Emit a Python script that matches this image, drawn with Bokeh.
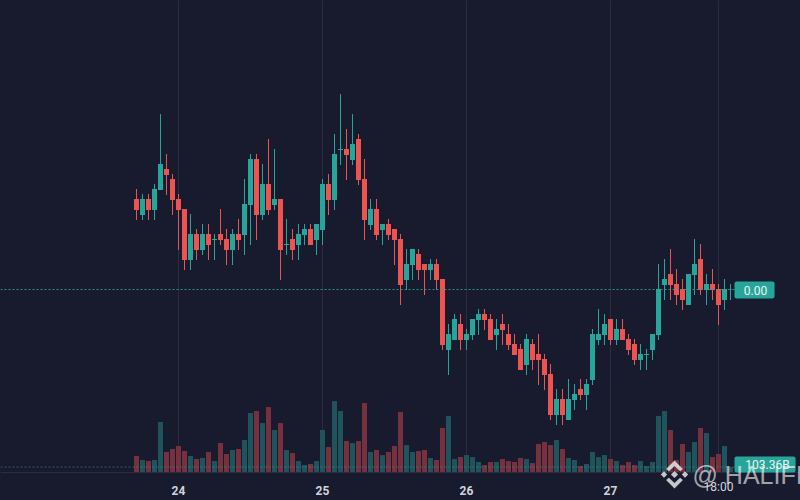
from bokeh.embed import file_html
from bokeh.resources import INLINE
from bokeh.plotting import figure
from bokeh.models import (Range1d, LinearAxis, FixedTicker, BoxAnnotation, Label,
                          PolyAnnotation, ColumnDataSource)

opens = [301,285,301,290,310,331,321,301,291,240,266,250,266,260,266,261,250,266,265,295,
         341,285,316,295,301,255,261,255,265,271,260,270,316,300,350,351,340,361,321,275,
         291,270,276,271,261,220,235,246,236,230,236,221,150,160,176,160,165,180,186,181,
         165,176,166,156,151,135,156,146,141,126,85,101,80,100,111,105,120,160,165,181,
         160,171,161,156,140,145,150,165,215,226,216,211,195,225,241,210,216,211,200,210]
closes = [290,301,290,311,336,325,300,290,240,266,250,266,255,261,260,250,266,260,296,341,
          285,316,290,301,250,256,250,266,271,255,276,316,300,346,351,345,356,320,280,291,
          265,276,265,260,215,236,251,230,230,236,220,155,166,181,160,166,181,186,180,160,
          171,170,155,145,130,161,140,140,125,85,101,85,101,106,105,116,166,166,176,160,
          171,160,150,140,146,146,166,211,221,215,205,200,226,236,210,216,210,195,211,210.5]
highs = [311,306,306,316,386,346,326,306,291,286,271,276,276,266,291,271,271,281,321,346,
         346,336,361,351,301,281,271,276,276,276,276,321,326,366,406,371,386,366,341,301,
         301,276,281,271,266,251,251,251,236,241,241,221,176,186,186,171,181,191,191,186,
         181,186,176,166,156,166,161,166,146,136,111,111,121,116,121,121,171,191,186,181,
         181,181,166,161,156,151,166,236,241,251,231,221,226,261,256,226,231,216,221,216]
lows = [280,280,280,280,310,305,285,250,230,230,240,245,240,240,255,235,235,250,245,255,
        260,280,285,290,220,245,240,240,255,255,245,255,285,290,335,320,335,315,260,270,
        260,255,260,235,195,210,220,220,205,220,210,150,125,160,150,150,160,165,170,160,
        150,155,150,145,130,125,130,115,110,80,75,75,80,90,100,90,115,155,155,155,
        155,160,145,135,130,130,140,160,200,200,195,190,195,205,205,195,200,175,190,200]
volumes_b = [318,240,220,240,981,396,454,513,415,318,259,279,396,220,571,357,435,454,630,1156,
             1195,961,1273,825,961,435,376,220,142,162,220,825,493,1390,1195,610,571,610,1351,396,
             435,337,396,513,1176,532,396,415,435,279,240,864,1098,259,298,337,298,201,142,201,
             201,259,220,201,279,259,181,552,591,532,630,454,279,240,123,162,396,298,337,259,
             220,142,201,142,220,123,201,1098,1195,825,240,552,396,591,864,766,298,357,513,103.36]

tick_positions = [7, 31, 55, 79]
tick_labels = ["24", "25", "26", "27"]
time_tick = 97
time_label = "18:00"
last_price_label = "0.00"
last_volume_label = "103.36B"
watermark = "@ HALIFI"

BG = "#181a2e"
UP = "#26a69a"
DOWN = "#ef5350"
GRID = "#2b2d3e"

n = len(opens)
idx = list(range(n))
up = [c >= o for o, c in zip(opens, closes)]
colors = [UP if u else DOWN for u in up]
vol_colors = ["#1f545d" if u else "#77303e" for u in up]
src = ColumnDataSource(dict(
    x=idx, o=opens, c=closes, h=highs, l=lows, v=volumes_b,
    top=[max(a, b) for a, b in zip(opens, closes)],
    bot=[min(a, b) for a, b in zip(opens, closes)],
    color=colors, vcolor=vol_colors))


def X(px):
    return (px - 136.0) / 6.0


def Y(py):
    return 499.5 - py


p = figure(width=800, height=500, output_backend="svg", toolbar_location=None,
           x_range=Range1d(X(0), X(800)), y_range=Range1d(-0.5, 499.5),
           x_axis_location=None, y_axis_location=None,
           min_border=0, outline_line_color=None,
           background_fill_color=BG, border_fill_color=BG)
p.grid.visible = False
VOL_PX = 19.5
p.extra_y_ranges = {"vol": Range1d((471.83 - 500) * VOL_PX, 471.83 * VOL_PX)}

grid_ticks = tick_positions + [time_tick, X(734)]
p.segment(x0=grid_ticks, x1=grid_ticks, y0=[Y(472)] * 5, y1=[Y(0)] * 5, line_color=GRID, line_width=1)

axis = LinearAxis(ticker=FixedTicker(ticks=tick_positions),
                  major_label_overrides=dict(zip(tick_positions, tick_labels)),
                  fixed_location=Y(472))
axis.axis_line_color = GRID
axis.major_tick_line_color = None
axis.minor_tick_line_color = None
axis.major_label_text_color = "#d1d4dc"
axis.major_label_text_font = "Roboto"
axis.major_label_text_font_size = "12px"
axis.major_label_text_font_style = "bold"
axis.major_label_standoff = 7
p.add_layout(axis, "below")

p.vbar(x="x", top="v", bottom=0, width=5 / 6, fill_color="vcolor", line_color=None,
       y_range_name="vol", source=src)
p.segment(x0="x", x1="x", y0="l", y1="h", line_color="color", line_width=1, source=src)
p.vbar(x="x", top="top", bottom="bot", width=5 / 6, fill_color="color", line_color=None, source=src)

# price lines, ended at the price scale
p.segment(x0=[X(0)], x1=[X(734)], y0=[closes[-1]], y1=[closes[-1]], line_color=UP, line_width=1,
          line_dash="2 2", line_alpha=0.85)
p.segment(x0=[X(0)], x1=[X(734)], y0=[volumes_b[-1]], y1=[volumes_b[-1]], line_color=UP, line_width=1,
          line_dash="2 2", line_alpha=0.55, y_range_name="vol")

# price-scale boxes
p.add_layout(BoxAnnotation(left=X(734), right=X(774), top=Y(281), bottom=Y(298),
                           fill_color=UP, fill_alpha=1, line_color=None, border_radius=2, level="annotation"))
p.add_layout(Label(x=X(755), y=Y(289.5), text=last_price_label, text_color="#eef3f3", level="overlay",
                   text_font="Roboto", text_font_size="12px", text_align="center", text_baseline="middle"))
p.add_layout(BoxAnnotation(left=X(734), right=X(795), top=Y(456), bottom=Y(472),
                           fill_color=UP, fill_alpha=1, line_color=None, border_radius=2, level="annotation"))
p.add_layout(Label(x=X(767), y=Y(464), text=last_volume_label, text_color="#eef3f3", level="overlay",
                   text_font="Roboto", text_font_size="12px", text_align="center", text_baseline="middle"))

p.add_layout(Label(x=X(718), y=Y(486), text=time_label, text_color="#d1d4dc", level="overlay",
                   text_font="Roboto", text_font_size="12px", text_align="center", text_baseline="middle"))

# watermark
LOGO_X, LOGO_Y = 674, 474
logo_shapes = [
    [(0, -3.6), (3.6, 0), (0, 3.6), (-3.6, 0)],
    [(-10.5, -3.2), (-7.3, 0), (-10.5, 3.2), (-13.7, 0)],
    [(10.5, -3.2), (13.7, 0), (10.5, 3.2), (7.3, 0)],
    [(0, -14), (8.4, -5.6), (5.6, -3.2), (0, -8.6), (-5.6, -3.2), (-8.4, -5.6)],
    [(0, 14), (8.4, 5.6), (5.6, 3.2), (0, 8.6), (-5.6, 3.2), (-8.4, 5.6)],
]
for shape in logo_shapes:
    p.add_layout(PolyAnnotation(xs=[X(LOGO_X + a) for a, b in shape],
                                ys=[Y(LOGO_Y + b) for a, b in shape],
                                fill_color="#e6e6e6", fill_alpha=0.85, line_color=None, level="overlay"))
p.add_layout(Label(x=X(692), y=Y(474.5), text=watermark, text_color="#ffffff", text_alpha=0.62, level="overlay",
                   text_font="Liberation Sans", text_font_size="25px", text_align="left",
                   text_baseline="middle"))

html = file_html(p, INLINE)
html = html.replace("<head>", "<head><style>html,body{margin:0;padding:0;background:#181a2e;overflow:hidden}</style>", 1)
open("out.html", "w").write(html)
